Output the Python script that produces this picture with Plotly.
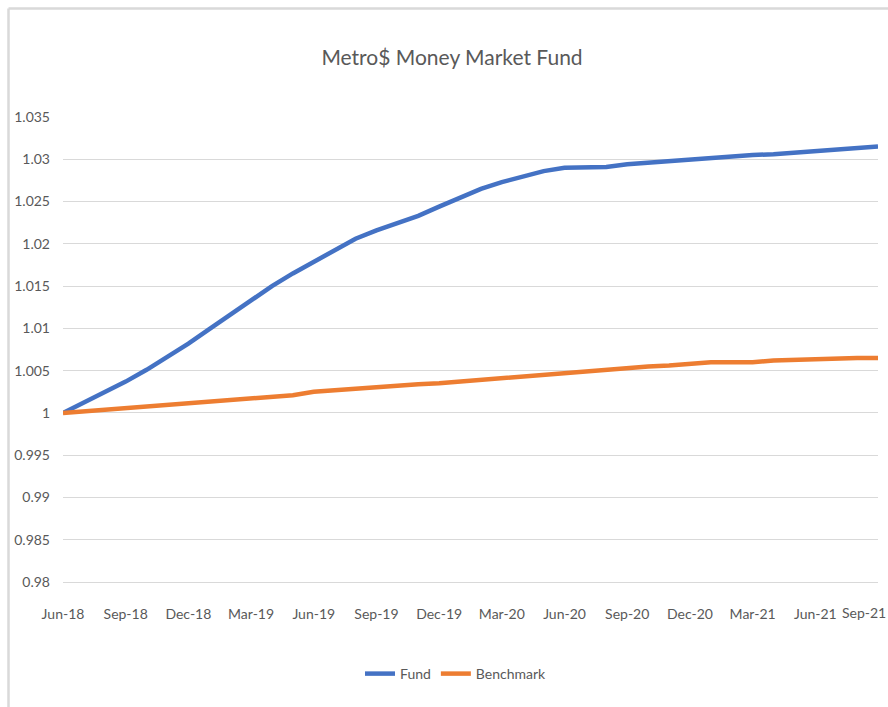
import plotly.graph_objects as go

months = ["Jun-18", "Jul-18", "Aug-18", "Sep-18", "Oct-18", "Nov-18", "Dec-18", "Jan-19", "Feb-19", "Mar-19",
          "Apr-19", "May-19", "Jun-19", "Jul-19", "Aug-19", "Sep-19", "Oct-19", "Nov-19", "Dec-19", "Jan-20",
          "Feb-20", "Mar-20", "Apr-20", "May-20", "Jun-20", "Jul-20", "Aug-20", "Sep-20", "Oct-20", "Nov-20",
          "Dec-20", "Jan-21", "Feb-21", "Mar-21", "Apr-21", "May-21", "Jun-21", "Jul-21", "Aug-21", "Sep-21"]

fund = [1.0000, 1.0012, 1.0024, 1.0037, 1.0051, 1.0066, 1.0082, 1.0099, 1.0116, 1.0133,
        1.0150, 1.0165, 1.0179, 1.0193, 1.0206, 1.0216, 1.0225, 1.0233, 1.0244, 1.0255,
        1.0265, 1.0273, 1.0280, 1.0286, 1.0290, 1.0291, 1.0291, 1.0294, 1.0296, 1.0298,
        1.0300, 1.0302, 1.0303, 1.0305, 1.0306, 1.0308, 1.0310, 1.0312, 1.0313, 1.0315]

benchmark = [1.0000, 1.0002, 1.0004, 1.0006, 1.0007, 1.0009, 1.0011, 1.0014, 1.0016, 1.0018,
             1.0019, 1.0021, 1.0025, 1.0027, 1.0028, 1.0030, 1.0032, 1.0034, 1.0035, 1.0037,
             1.0040, 1.0042, 1.0044, 1.0046, 1.0048, 1.0050, 1.0051, 1.0053, 1.0055, 1.0056,
             1.0058, 1.0060, 1.0060, 1.0060, 1.0062, 1.0063, 1.0063, 1.0064, 1.0065, 1.0065]

x_ticks = ["Jun-18", "Sep-18", "Dec-18", "Mar-19", "Jun-19", "Sep-19", "Dec-19", "Mar-20",
           "Jun-20", "Sep-20", "Dec-20", "Mar-21", "Jun-21", "Sep-21"]
y_ticks = [0.98, 0.985, 0.99, 0.995, 1.0, 1.005, 1.01, 1.015, 1.02, 1.025, 1.03, 1.035]
y_labels = ["0.98", "0.985", "0.99", "0.995", "1", "1.005", "1.01", "1.015", "1.02", "1.025", "1.03", "1.035"]

FONT = "Lato, sans-serif"
GREY = "#595959"
GRID = "#d9d9d9"

fig = go.Figure()
fig.add_trace(go.Scatter(x=months, y=fund, name="Fund", mode="lines",
                         line=dict(color="#4472C4", width=4.5)))
fig.add_trace(go.Scatter(x=months, y=benchmark, name="Benchmark", mode="lines",
                         line=dict(color="#ED7D31", width=4.5)))

L, R, T, B = 63, 10, 117, 125
W, H = 888, 707
pw, ph = W - L - R, H - T - B

fig.update_layout(
    width=W, height=H,
    margin=dict(l=L, r=R, t=T, b=B, autoexpand=False),
    paper_bgcolor="white", plot_bgcolor="white",
    title=dict(text="Metro$ Money Market Fund", x=452 / W, xref="container", xanchor="center",
               y=1 - 58 / H, yref="container", yanchor="middle",
               font=dict(family=FONT, size=21, color=GREY)),
    showlegend=True,
    legend=dict(orientation="h", xref="container", yref="container",
                x=456 / W, xanchor="center", y=1 - 674 / H, yanchor="middle",
                font=dict(family=FONT, size=14, color=GREY)),
    xaxis=dict(type="category", range=[0, len(months) - 1], tickmode="array",
               tickvals=x_ticks[:-1], ticktext=x_ticks[:-1],
               showgrid=False, showline=True, linecolor=GRID, linewidth=1,
               ticks="", ticklabelstandoff=19, tickfont=dict(family=FONT, size=14, color=GREY),
               zeroline=False, automargin=False),
    yaxis=dict(range=[0.98, 1.035], tickmode="array", tickvals=y_ticks, ticktext=y_labels,
               showgrid=True, gridcolor=GRID, gridwidth=1, zeroline=False, showline=False,
               ticks="", ticklabelstandoff=12, tickfont=dict(family=FONT, size=14, color=GREY),
               automargin=False),
)

# last category label is pulled inward so it fits at the right edge (as Excel does)
fig.add_annotation(x=x_ticks[-1], xref="x", y=0, yref="paper", text=x_ticks[-1],
                   showarrow=False, xanchor="right", yanchor="middle", xshift=10, yshift=-30,
                   font=dict(family=FONT, size=14, color=GREY))

# light grey frame on top and left (as in the source screenshot)
bx = (8.5 - L) / pw
by = (H - B - 8.5) / ph
fig.add_shape(type="line", xref="paper", yref="paper", x0=bx, x1=(W - L) / pw, y0=by, y1=by,
              line=dict(color=GRID, width=2.5))
fig.add_shape(type="line", xref="paper", yref="paper", x0=bx, x1=bx, y0=by, y1=(H - B - H) / ph,
              line=dict(color=GRID, width=2.5))

fig.write_html("out.html", config={"displayModeBar": False})

# remove the default page margin so the figure sits at the window's top-left corner
with open("out.html", "r", encoding="utf-8") as f:
    html = f.read()
html = html.replace("<head>", "<head><style>html,body{margin:0;padding:0;overflow:hidden;}</style>", 1)
with open("out.html", "w", encoding="utf-8") as f:
    f.write(html)
